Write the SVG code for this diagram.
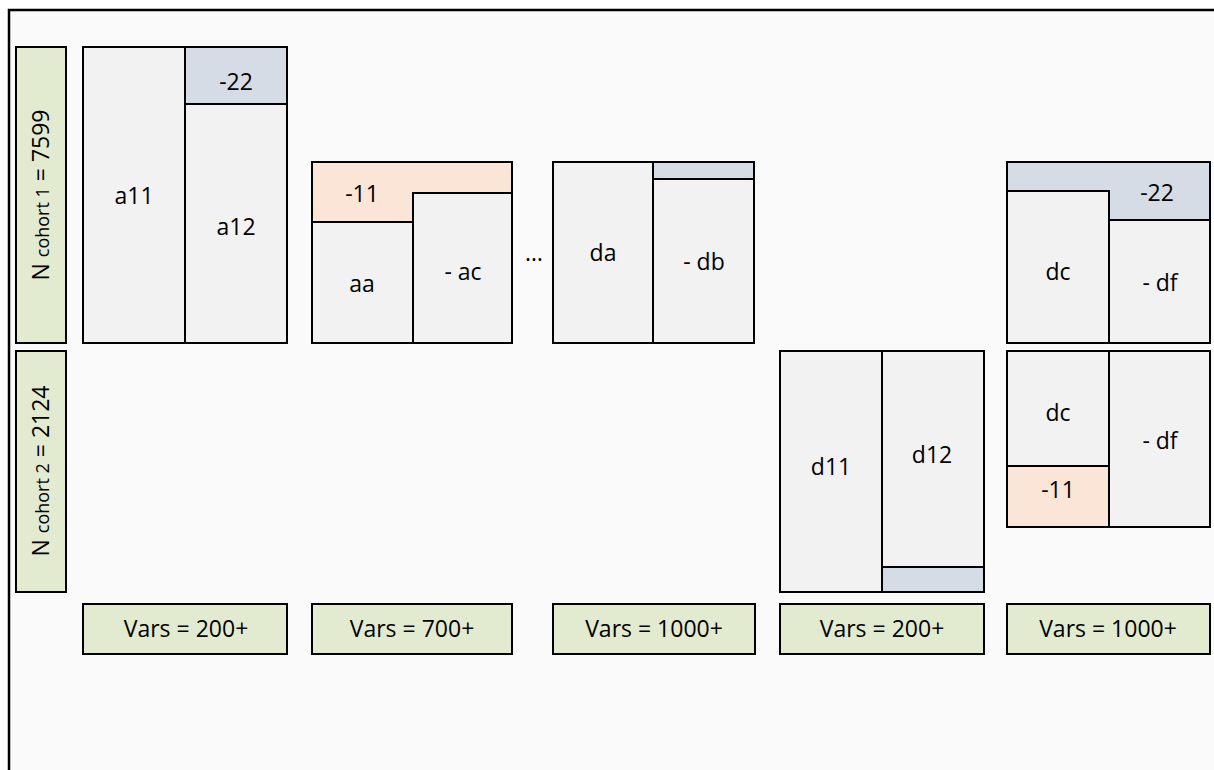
<svg xmlns="http://www.w3.org/2000/svg" width="1214" height="770" viewBox="0 0 1214 770">
<style>
.g{fill:#f2f2f2;stroke:#000;stroke-width:2}
.b{fill:#d6dce5;stroke:#000;stroke-width:2}
.o{fill:#fbe5d6;stroke:#000;stroke-width:2}
.l{fill:#e2ebd0;stroke:#000;stroke-width:2}
text{font-family:"Open Sans","Noto Sans","Liberation Sans",sans-serif;font-size:23px;fill:#000;text-anchor:middle}
.s{font-size:18px}
</style>
<rect x="0" y="0" width="1214" height="770" fill="#ffffff"/>
<rect x="9" y="10" width="1215" height="770" fill="#fafafa" stroke="#000" stroke-width="2.5"/>
<g id="row1-label">
<rect class="l" x="16" y="47" width="50" height="296"/>
<text transform="translate(49,195) rotate(-90)">N <tspan class="s">cohort 1</tspan> = 7599</text>
</g>
<g id="row2-label">
<rect class="l" x="16" y="351" width="50" height="241"/>
<text transform="translate(49,471) rotate(-90)">N <tspan class="s">cohort 2</tspan> = 2124</text>
</g>
<g id="block-a">
<rect class="g" x="83" y="47" width="102" height="296"/>
<rect class="b" x="185" y="47" width="102" height="57"/>
<rect class="g" x="185" y="104" width="102" height="239"/>
<text x="134" y="204">a11</text>
<text x="236" y="90">-22</text>
<text x="236" y="235">a12</text>
</g>
<g id="block-b">
<rect class="o" x="312" y="162" width="200" height="181"/>
<rect class="g" x="312" y="222" width="101" height="121"/>
<rect class="g" x="413" y="193" width="99" height="150"/>
<text x="362" y="202">-11</text>
<text x="362" y="292">aa</text>
<text x="463" y="280">- ac</text>
</g>
<text id="ellipsis" x="534" y="261">…</text>
<g id="block-c">
<rect class="g" x="553" y="162" width="100" height="181"/>
<rect class="b" x="653" y="162" width="101" height="17"/>
<rect class="g" x="653" y="179" width="101" height="164"/>
<text x="603" y="261">da</text>
<text x="704" y="270">- db</text>
</g>
<g id="block-d">
<rect class="g" x="780" y="351" width="102" height="241"/>
<rect class="g" x="882" y="351" width="102" height="216"/>
<rect class="b" x="882" y="567" width="102" height="25"/>
<text x="831" y="475">d11</text>
<text x="932" y="463">d12</text>
</g>
<g id="block-e1">
<rect class="b" x="1007" y="162" width="203" height="181"/>
<rect class="g" x="1007" y="191" width="102" height="152"/>
<rect class="g" x="1109" y="220" width="101" height="123"/>
<text x="1157" y="201">-22</text>
<text x="1058" y="280">dc</text>
<text x="1160" y="291">- df</text>
</g>
<g id="block-e2">
<rect class="g" x="1007" y="351" width="102" height="115"/>
<rect class="o" x="1007" y="466" width="102" height="61"/>
<rect class="g" x="1109" y="351" width="101" height="176"/>
<text x="1058" y="421">dc</text>
<text x="1058" y="498">-11</text>
<text x="1160" y="449">- df</text>
</g>
<g id="vars">
<rect class="l" x="83" y="604" width="204" height="50"/>
<text x="186" y="637">Vars = 200+</text>
<rect class="l" x="312" y="604" width="200" height="50"/>
<text x="412" y="637">Vars = 700+</text>
<rect class="l" x="553" y="604" width="202" height="50"/>
<text x="654" y="637">Vars = 1000+</text>
<rect class="l" x="780" y="604" width="204" height="50"/>
<text x="882" y="637">Vars = 200+</text>
<rect class="l" x="1007" y="604" width="203" height="50"/>
<text x="1108" y="637">Vars = 1000+</text>
</g>
<g id="connectors"></g>
</svg>
